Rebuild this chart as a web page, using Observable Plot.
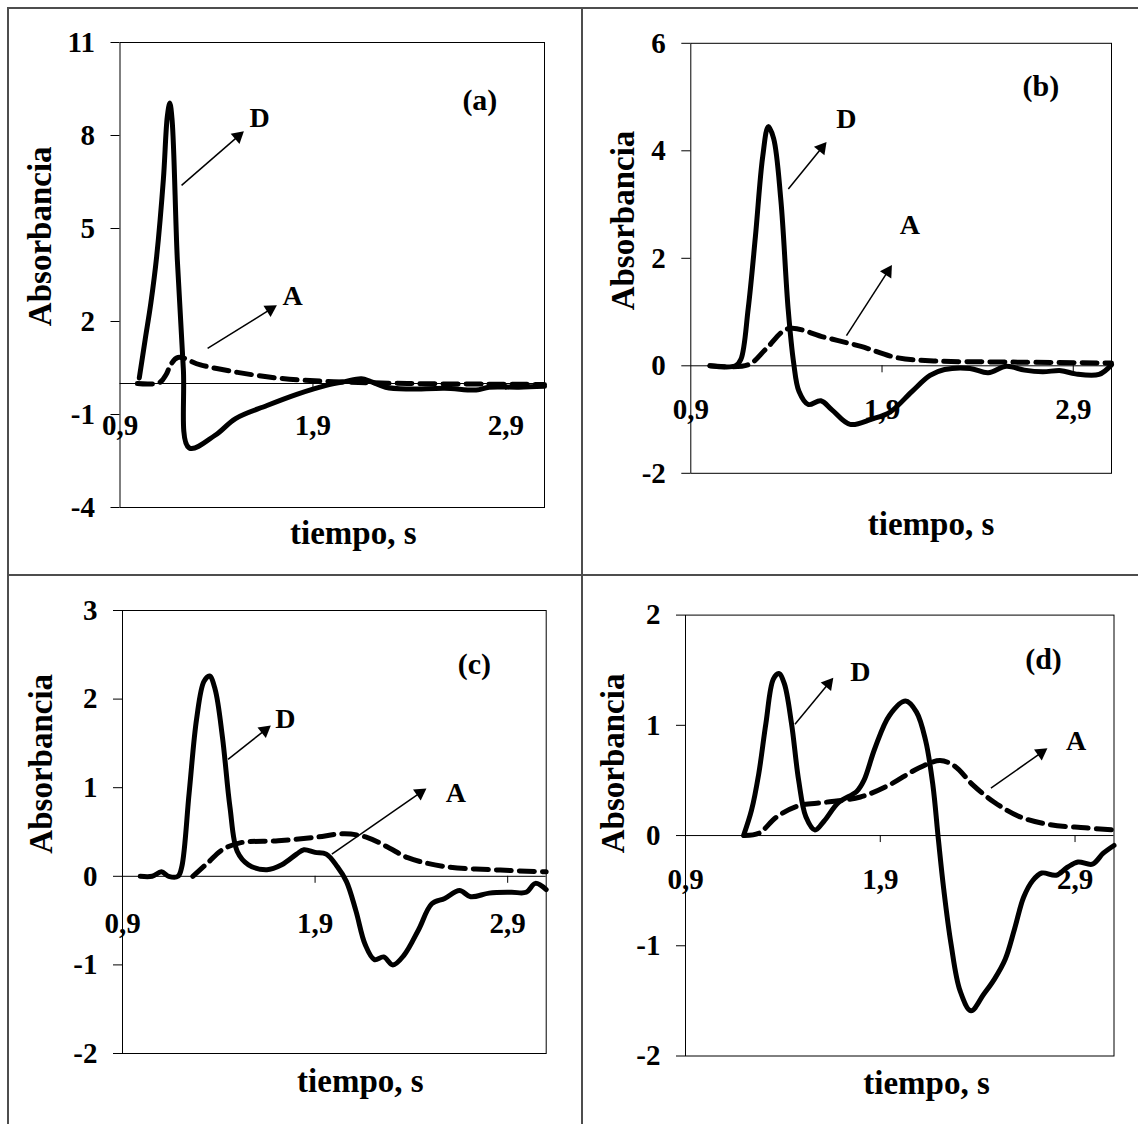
<!DOCTYPE html>
<html>
<head>
<meta charset="utf-8">
<script src="https://cdn.jsdelivr.net/npm/d3@7"></script>
<script src="https://cdn.jsdelivr.net/npm/@observablehq/plot@0.6"></script>
<style>
html, body { margin: 0; padding: 0; background: #fff; }
#page { position: relative; width: 1138px; height: 1124px; overflow: hidden; background: #fff; }
.cell { position: absolute; }
.cell svg { overflow: visible; }
.rule { position: absolute; background: #4d4d4d; z-index: 5; }
</style>
</head>
<body>
<div id="page"></div>
<script>
// ---------- shared axis data ----------
const xDomain = [0.9, 3.1];
const xTicks = [0.9, 1.9, 2.9];
const yTitle = "Absorbancia";
const xTitle = "tiempo, s";

// ---------- panel (a) ----------
const aYDomain = [-4, 11];
const aYTicks = [-4, -1, 2, 5, 8, 11];
const aTimeD = [1.0, 1.03, 1.06, 1.09, 1.125, 1.145, 1.158, 1.17, 1.197, 1.228, 1.259, 1.393, 1.499, 1.662, 1.816, 1.969, 2.065, 2.151, 2.2, 2.276, 2.39, 2.583, 2.746, 2.813, 2.967, 3.1];
const aAbsD  = [0.18, 1.4, 2.6, 4.1, 6.6, 8.6, 9.05, 8.5, 4.0, 0.5, -2.08, -1.67, -1.13, -0.71, -0.35, -0.06, 0.06, 0.15, 0.06, -0.12, -0.18, -0.15, -0.21, -0.12, -0.12, -0.09];
const aTimeA = [0.99, 1.105, 1.14, 1.162, 1.2, 1.317, 1.509, 1.739, 2.008, 2.39, 2.8, 3.1];
const aAbsA  = [0, 0.03, 0.3, 0.6, 0.84, 0.6, 0.36, 0.16, 0.06, 0.0, -0.02, -0.03];
const aLabels = ["(a)", "D", "A"];
const aLabelX = [2.765, 1.624, 1.795];
const aLabelY = [9.13, 8.55, 2.81];
const aArrowFrom = [[1.219, 6.39], [1.354, 1.13]];
const aArrowTo   = [[1.541, 8.13], [1.712, 2.52]];

// ---------- panel (b) ----------
const bYDomain = [-2, 6];
const bYTicks = [-2, 0, 2, 4, 6];
const bTimeD = [1.0, 1.134, 1.162, 1.2, 1.238, 1.276, 1.305, 1.333, 1.371, 1.409, 1.438, 1.466, 1.514, 1.58, 1.638, 1.733, 1.847, 1.942, 2.056, 2.151, 2.227, 2.36, 2.455, 2.55, 2.645, 2.74, 2.836, 2.911, 3.035, 3.1];
const bAbsD  = [0, 0, 0.12, 1.06, 2.41, 3.89, 4.45, 4.23, 3.08, 1.06, 0.05, -0.48, -0.72, -0.65, -0.82, -1.09, -0.99, -0.86, -0.48, -0.18, -0.07, -0.05, -0.13, -0.01, -0.08, -0.11, -0.09, -0.15, -0.16, 0.02];
const bTimeA = [1.0, 1.2, 1.295, 1.409, 1.6, 1.79, 1.98, 2.17, 2.55, 3.1];
const bAbsA  = [0, 0.02, 0.32, 0.69, 0.53, 0.36, 0.15, 0.09, 0.07, 0.05];
const bLabels = ["(b)", "D", "A"];
const bLabelX = [2.731, 1.714, 2.046];
const bLabelY = [5.2, 4.6, 2.61];
const bArrowFrom = [[1.41, 3.29], [1.714, 0.56]];
const bArrowTo   = [[1.609, 4.16], [1.951, 1.87]];

// ---------- panel (c) ----------
const cYDomain = [-2, 3];
const cYTicks = [-2, -1, 0, 1, 2, 3];
const cTimeD = [0.992, 1.054, 1.102, 1.14, 1.188, 1.208, 1.246, 1.285, 1.323, 1.352, 1.381, 1.419, 1.458, 1.496, 1.554, 1.65, 1.727, 1.804, 1.842, 1.9, 1.958, 2.015, 2.063, 2.112, 2.16, 2.208, 2.256, 2.304, 2.362, 2.438, 2.506, 2.573, 2.65, 2.708, 2.804, 2.919, 2.996, 3.044, 3.1];
const cAbsD  = [0, 0, 0.05, 0, 0, 0.11, 0.94, 1.78, 2.2, 2.26, 2.11, 1.57, 0.78, 0.28, 0.13, 0.075, 0.13, 0.25, 0.3, 0.27, 0.25, 0.11, -0.06, -0.39, -0.77, -0.94, -0.91, -1.0, -0.89, -0.6, -0.31, -0.25, -0.16, -0.23, -0.19, -0.18, -0.18, -0.08, -0.15];
const cTimeA = [1.265, 1.342, 1.419, 1.515, 1.708, 1.9, 2.054, 2.169, 2.285, 2.381, 2.573, 2.862, 3.1];
const cAbsA  = [0, 0.15, 0.3, 0.38, 0.4, 0.44, 0.48, 0.44, 0.32, 0.21, 0.11, 0.07, 0.05];
const cLabels = ["(c)", "D", "A"];
const cLabelX = [2.727, 1.746, 2.631];
const cLabelY = [2.39, 1.78, 0.94];
const cArrowFrom = [[1.448, 1.32], [1.987, 0.25]];
const cArrowTo   = [[1.669, 1.70], [2.477, 0.99]];

// ---------- panel (d) ----------
const dYDomain = [-2, 2];
const dYTicks = [-2, -1, 0, 1, 2];
const dTimeD = [1.198, 1.239, 1.276, 1.313, 1.351, 1.379, 1.407, 1.444, 1.481, 1.518, 1.565, 1.611, 1.686, 1.779, 1.816, 1.872, 1.947, 2.03, 2.086, 2.133, 2.17, 2.198, 2.226, 2.263, 2.31, 2.366, 2.431, 2.487, 2.542, 2.589, 2.636, 2.682, 2.729, 2.803, 2.859, 2.915, 2.989, 3.045, 3.1];
const dAbsD  = [0, 0.23, 0.56, 1.02, 1.42, 1.47, 1.38, 1.02, 0.5, 0.17, 0.05, 0.13, 0.3, 0.4, 0.5, 0.79, 1.09, 1.22, 1.12, 0.86, 0.46, -0.03, -0.49, -0.98, -1.41, -1.59, -1.44, -1.3, -1.12, -0.85, -0.56, -0.41, -0.34, -0.36, -0.29, -0.24, -0.26, -0.16, -0.09];
const dTimeA = [1.202, 1.276, 1.369, 1.481, 1.611, 1.798, 1.947, 2.095, 2.207, 2.282, 2.375, 2.487, 2.617, 2.766, 2.952, 3.1];
const dAbsA  = [0, 0.02, 0.17, 0.27, 0.3, 0.35, 0.46, 0.61, 0.68, 0.63, 0.46, 0.3, 0.17, 0.1, 0.07, 0.05];
const dLabels = ["(d)", "D", "A"];
const dLabelX = [2.738, 1.798, 2.906];
const dLabelY = [1.6, 1.48, 0.86];
const dArrowFrom = [[1.462, 1.01], [2.468, 0.43]];
const dArrowTo   = [[1.658, 1.43], [2.757, 0.79]];

// ---------- rendering ----------
const FONT = "'Liberation Serif', 'Times New Roman', serif";
const fmtX = d => d.toFixed(1).replace(".", ",");

function panel(o) {
  const D = o.tD.map((t, i) => ({t, v: o.vD[i]}));
  const A = o.tA.map((t, i) => ({t, v: o.vA[i]}));
  const labels = o.labels.map((s, i) => ({s, x: o.lx[i], y: o.ly[i], size: i === 0 ? 30 : 28}));
  const kx = (o.width - o.ml - o.mr) / (xDomain[1] - xDomain[0]);
  const ky = (o.height - o.mt - o.mb) / (o.yDomain[1] - o.yDomain[0]);
  const headBack = 7.5;
  const arrows = o.from.map((f, i) => {
    const to = o.to[i];
    const px = (to[0] - f[0]) * kx, py = -(to[1] - f[1]) * ky;
    const len = Math.hypot(px, py);
    const ux = px / len, uy = py / len;
    return {
      x1: f[0], y1: f[1],
      hx: to[0] - ux * headBack / kx, hy: to[1] + uy * headBack / ky,
      ang: Math.atan2(ux, -uy) * 180 / Math.PI
    };
  });
  return Plot.plot({
    width: o.width, height: o.height,
    marginLeft: o.ml, marginRight: o.mr, marginTop: o.mt, marginBottom: o.mb,
    x: {domain: xDomain, axis: null},
    y: {domain: o.yDomain},
    style: {fontFamily: FONT, background: "transparent", color: "#000", overflow: "visible"},
    marks: [
      Plot.frame({stroke: "#000", strokeWidth: 1}),
      Plot.axisY({ticks: o.yTicks, tickSize: 9, tickPadding: 16, fontSize: 29, fontWeight: "bold",
                  tickFormat: d => String(d), label: null, fontFamily: FONT}),
      Plot.ruleY([0], {stroke: "#000", strokeWidth: 1}),
      Plot.ruleX(xTicks.slice(1), {x: d => d, y1: 0, y2: 0, insetBottom: -7, stroke: "#000", strokeWidth: 1}),
      Plot.text(xTicks, {x: d => d, y: 0, text: fmtX, dy: o.xLabDy, fontSize: 29, fontWeight: "bold", fontFamily: FONT}),
      Plot.line(A, {x: "t", y: "v", stroke: "#000", strokeWidth: 5, strokeDasharray: "15,8", curve: "catmull-rom"}),
      Plot.line(D, {x: "t", y: "v", stroke: "#000", strokeWidth: 5, curve: "catmull-rom"}),
      Plot.link(arrows, {x1: "x1", y1: "y1", x2: "hx", y2: "hy", stroke: "#000", strokeWidth: 1.5}),
      Plot.dot(arrows, {x: "hx", y: "hy", symbol: "triangle", r: 5, fill: "#000", stroke: "none", rotate: "ang"}),
      Plot.text(labels, {x: "x", y: "y", text: "s", fontSize: d => d.size, fontWeight: "bold", fontFamily: FONT}),
      Plot.text([yTitle], {text: d => d, frameAnchor: "left", textAnchor: "middle", lineAnchor: "middle",
                           rotate: -90, dx: o.ytdx, dy: o.ytdy,
                           fontSize: 33, fontWeight: "bold", fontFamily: FONT}),
      Plot.text([xTitle], {text: d => d, frameAnchor: "bottom", textAnchor: "middle", lineAnchor: "middle",
                           dx: o.xtdx, dy: o.xtdy,
                           fontSize: 33, fontWeight: "bold", fontFamily: FONT})
    ]
  });
}

const page = document.getElementById("page");
function place(node, left, top) {
  const div = document.createElement("div");
  div.className = "cell";
  div.style.left = left + "px";
  div.style.top = top + "px";
  div.appendChild(node);
  page.appendChild(div);
}

place(panel({width: 582, height: 574, ml: 119.5, mr: 38, mt: 42, mb: 67,
  yDomain: aYDomain, yTicks: aYTicks, tD: aTimeD, vD: aAbsD, tA: aTimeA, vA: aAbsA,
  labels: aLabels, lx: aLabelX, ly: aLabelY, from: aArrowFrom, to: aArrowTo,
  xLabDy: 42, ytdx: -79.7, ytdy: -38.7, xtdx: 21, xtdy: 26.4}), 0, 0);

place(panel({width: 556, height: 574, ml: 108.3, mr: 27, mt: 42.8, mb: 101.2,
  yDomain: bYDomain, yTicks: bYTicks, tD: bTimeD, vD: bAbsD, tA: bTimeA, vA: bAbsA,
  labels: bLabels, lx: bLabelX, ly: bLabelY, from: bArrowFrom, to: bArrowTo,
  xLabDy: 43.5, ytdx: -67.8, ytdy: -37.8, xtdx: 29.9, xtdy: 51.5}), 582, 0);

place(panel({width: 582, height: 550, ml: 122, mr: 36.3, mt: 36, mb: 71,
  yDomain: cYDomain, yTicks: cYTicks, tD: cTimeD, vD: cAbsD, tA: cTimeA, vA: cAbsA,
  labels: cLabels, lx: cLabelX, ly: cLabelY, from: cArrowFrom, to: cArrowTo,
  xLabDy: 47.5, ytdx: -81.3, ytdy: -68.2, xtdx: 26, xtdy: 28}), 0, 574);

place(panel({width: 556, height: 550, ml: 103, mr: 24.5, mt: 40.6, mb: 68.5,
  yDomain: dYDomain, yTicks: dYTicks, tD: dTimeD, vD: dAbsD, tA: dTimeA, vA: dAbsA,
  labels: dLabels, lx: dLabelX, ly: dLabelY, from: dArrowFrom, to: dArrowTo,
  xLabDy: 44.5, ytdx: -72.4, ytdy: -72.1, xtdx: 26.75, xtdy: 27.5}), 582, 574);

// table rules (panel borders)
function rule(left, top, w, h) {
  const d = document.createElement("div");
  d.className = "rule";
  d.style.left = left + "px"; d.style.top = top + "px";
  d.style.width = w + "px"; d.style.height = h + "px";
  page.appendChild(d);
}
rule(7, 6.5, 1131, 2);
rule(7, 6.5, 2, 1118);
rule(581, 6.5, 2, 1118);
rule(7, 573.5, 1131, 2);
</script>
</body>
</html>
